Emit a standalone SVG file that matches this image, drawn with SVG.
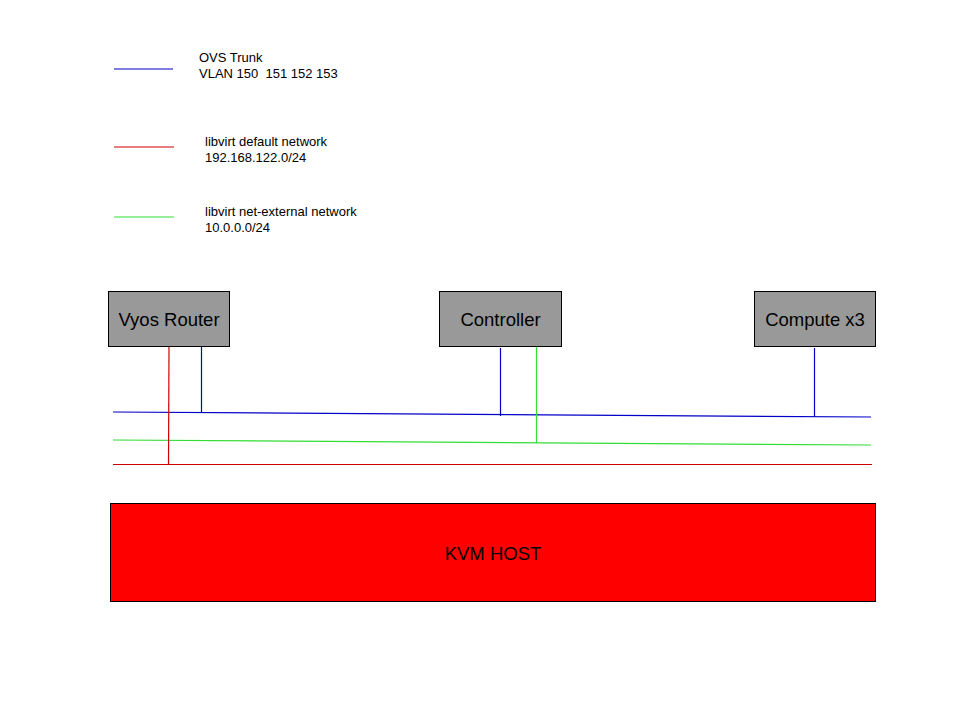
<svg xmlns="http://www.w3.org/2000/svg" width="960" height="720" viewBox="0 0 960 720">
<style>
.t{font-family:"Liberation Sans",Arial,sans-serif;font-size:13px;fill:#000;white-space:pre}
.n{font-family:"Liberation Sans",Arial,sans-serif;font-size:18.5px;fill:#000;text-anchor:middle}
.box{fill:#999;stroke:#000;stroke-width:1}
</style>
<rect width="960" height="720" fill="#fff"/>
<g id="legend">
<line x1="114" y1="69" x2="173" y2="69" stroke="#0000c8" stroke-width="1.2"/>
<text class="t" x="199" y="62">OVS Trunk</text>
<text class="t" x="199" y="78" xml:space="preserve">VLAN 150  151 152 153</text>
<line x1="114" y1="147" x2="174" y2="147" stroke="#d00000" stroke-width="1.2"/>
<text class="t" x="205" y="146">libvirt default network</text>
<text class="t" x="205" y="162">192.168.122.0/24</text>
<line x1="114" y1="217" x2="174" y2="217" stroke="#33dd33" stroke-width="1.2"/>
<text class="t" x="205" y="216">libvirt net-external network</text>
<text class="t" x="205" y="232">10.0.0.0/24</text>
</g>
<g id="connectors" fill="none" stroke-width="1.2">
<line x1="113" y1="412" x2="871" y2="417" stroke="#0000c8"/>
<line x1="113" y1="440" x2="871" y2="445" stroke="#33dd33"/>
<line x1="113" y1="464.5" x2="872" y2="464.5" stroke="#d00000"/>
<line x1="169" y1="346" x2="168.5" y2="465" stroke="#d00000"/>
<line x1="201.5" y1="346" x2="201.5" y2="413" stroke="#0000c8"/>
<line x1="500.5" y1="348" x2="500.5" y2="416" stroke="#0000c8"/>
<line x1="536.5" y1="346" x2="536.5" y2="443" stroke="#33dd33"/>
<line x1="814.5" y1="348" x2="814.5" y2="417" stroke="#0000c8"/>
</g>
<g id="vyos">
<rect class="box" x="108.5" y="291.5" width="121" height="55"/>
<text class="n" x="169" y="326">Vyos Router</text>
</g>
<g id="controller">
<rect class="box" x="439.5" y="291.5" width="122" height="55"/>
<text class="n" x="500.5" y="326">Controller</text>
</g>
<g id="compute">
<rect class="box" x="754.5" y="291.5" width="121" height="55"/>
<text class="n" x="815" y="326">Compute x3</text>
</g>
<g id="kvm">
<rect x="110.5" y="503.5" width="765" height="98" fill="#f00" stroke="#000" stroke-width="1"/>
<text class="n" x="493" y="560">KVM HOST</text>
</g>
</svg>
